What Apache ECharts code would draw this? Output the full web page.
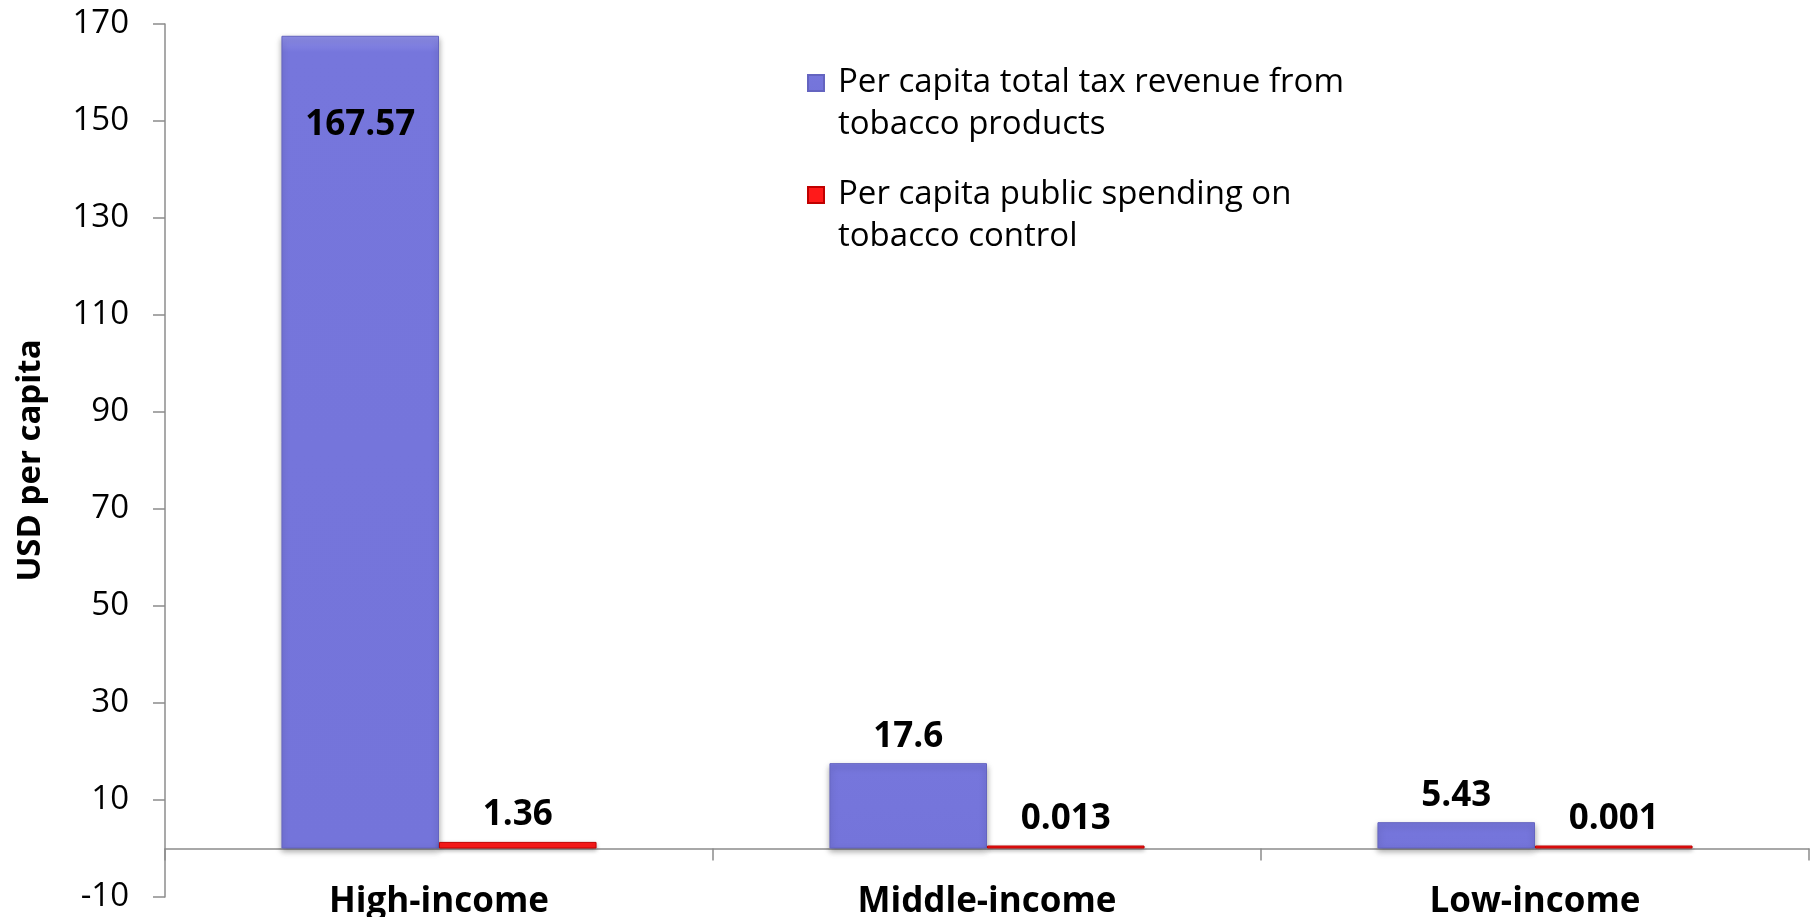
<!DOCTYPE html>
<html>
<head>
<meta charset="utf-8">
<script src="https://cdn.jsdelivr.net/npm/echarts@6/dist/echarts.min.js"></script>
<style>
  html, body { margin: 0; padding: 0; background: #fff; }
  #myChart { width: 1816px; height: 917px; }
</style>
</head>
<body>
<div id="myChart"></div>
<script>
// data
const categories = ['High-income', 'Middle-income', 'Low-income']
const taxRevenue = [167.57, 17.6, 5.43]
const publicSpending = [1.36, 0.013, 0.001]
const seriesNames = [
  'Per capita total tax revenue from\ntobacco products',
  'Per capita public spending on\ntobacco control'
]

const font = 'Open Sans'

const myChart = echarts.init(document.getElementById('myChart'))

const labelStyle = {
  show: true,
  position: 'top',
  distance: 9,
  fontFamily: font,
  fontWeight: 'bold',
  fontSize: 35,
  color: '#000'
}

const axisGrey = { color: '#8c8c8c', width: 1.5 }

myChart.setOption({
  animation: false,
  grid: {
    left: 165,
    right: 7,
    top: 24,
    bottom: 20,
    outerBoundsMode: 'none'
  },
  legend: {
    orient: 'vertical',
    left: 807,
    top: 20,
    padding: 0,
    itemGap: -14,
    itemWidth: 16,
    itemHeight: 16,
    icon: 'rect',
    // blank first line so the icon sits beside the first text line
    formatter: name => ' \n' + name,
    textStyle: {
      fontFamily: font,
      fontSize: 33,
      lineHeight: 42,
      color: '#000',
      padding: [0, 0, 0, 9]
    },
    data: seriesNames
  },
  xAxis: [
    {
      // line and ticks along zero
      type: 'category',
      data: categories,
      axisLine: { onZero: true, lineStyle: axisGrey },
      axisTick: { show: true, length: 12, lineStyle: axisGrey },
      axisLabel: { show: false }
    },
    {
      // category names at the bottom of the plot
      type: 'category',
      data: categories,
      position: 'bottom',
      axisLine: { show: false, onZero: false },
      axisTick: { show: false },
      axisLabel: {
        show: true,
        margin: -10,
        lineHeight: 30,
        fontFamily: font,
        fontWeight: 'bold',
        fontSize: 35,
        color: '#000'
      }
    }
  ],
  yAxis: {
    type: 'value',
    min: -10,
    max: 170,
    interval: 20,
    name: 'USD per capita',
    nameLocation: 'middle',
    nameGap: 118,
    nameTextStyle: {
      fontFamily: font,
      fontWeight: 'bold',
      fontSize: 33,
      color: '#000'
    },
    splitLine: { show: false },
    axisLine: { show: true, lineStyle: axisGrey },
    axisTick: { show: true, length: 12, lineStyle: axisGrey },
    axisLabel: {
      margin: 36,
      fontFamily: font,
      fontSize: 33,
      color: '#000'
    }
  },
  series: [
    {
      name: seriesNames[0],
      type: 'bar',
      barGap: '0%',
      barCategoryGap: '42.5%',
      itemStyle: {
        color: {
          type: 'linear', x: 0, y: 0, x2: 0, y2: 1,
          colorStops: [
            { offset: 0, color: '#8f8fe8' },
            { offset: 0.02, color: '#7676dc' },
            { offset: 1, color: '#7474da' }
          ]
        },
        borderColor: '#6464c0',
        borderWidth: 1,
        shadowColor: 'rgba(0,0,0,0.35)',
        shadowBlur: 6,
        shadowOffsetY: 3
      },
      label: labelStyle,
      data: taxRevenue.map((v, i) => i === 0
        ? { value: v, label: { position: 'insideTop', distance: 72 } }
        : v)
    },
    {
      name: seriesNames[1],
      type: 'bar',
      barMinHeight: 3,
      itemStyle: {
        color: '#ff1a1a',
        borderColor: '#c00000',
        borderWidth: 1,
        shadowColor: 'rgba(0,0,0,0.3)',
        shadowBlur: 4,
        shadowOffsetY: 2
      },
      label: labelStyle,
      data: publicSpending
    }
  ]
})
</script>
</body>
</html>
